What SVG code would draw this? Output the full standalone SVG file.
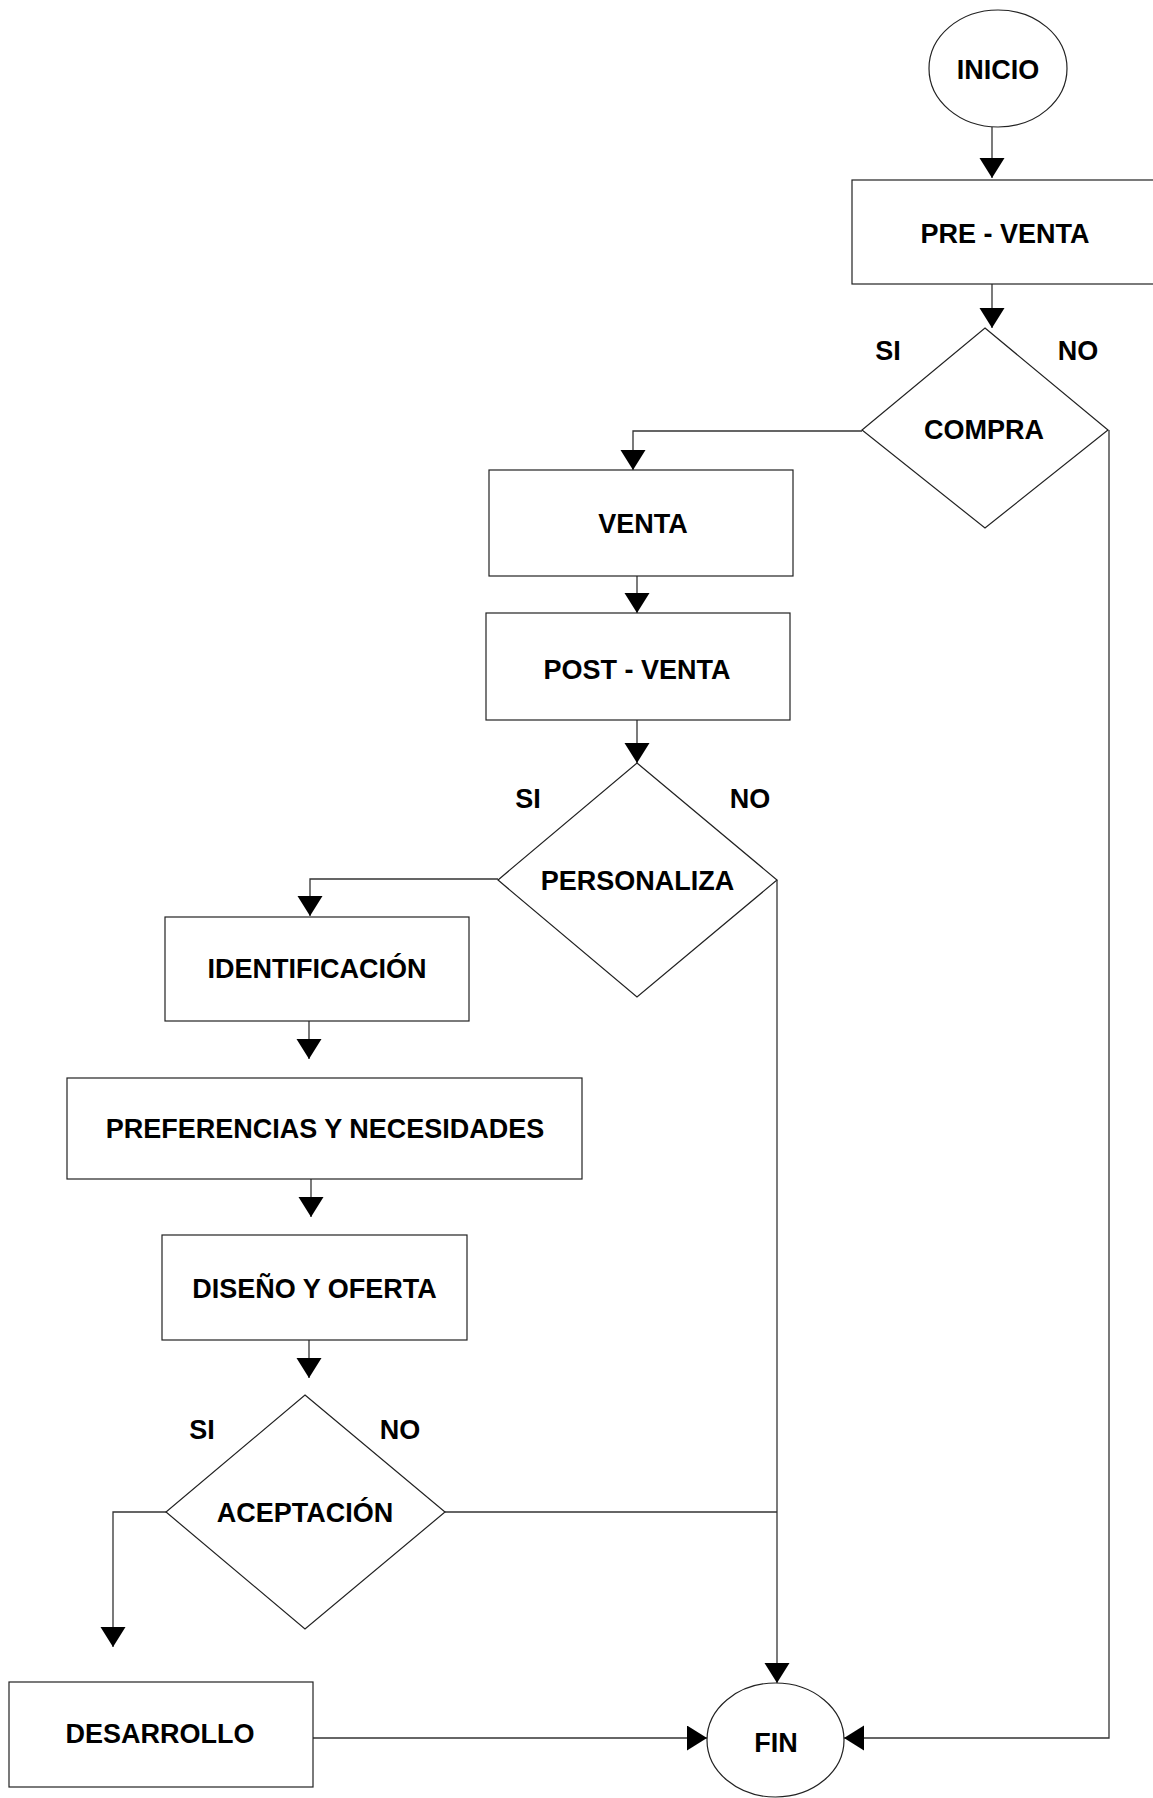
<svg xmlns="http://www.w3.org/2000/svg" width="1153" height="1798" viewBox="0 0 1153 1798">
<style>
.s{fill:#fff;stroke:#222;stroke-width:1.2}
.c{fill:none;stroke:#333;stroke-width:1.3}
text{font-family:"Liberation Sans",Arial,sans-serif;font-weight:bold;font-size:27px;fill:#000;text-anchor:middle}
</style>
<defs>
<marker id="ah" markerUnits="userSpaceOnUse" markerWidth="22" markerHeight="26" refX="20" refY="12.5" orient="auto" viewBox="0 0 22 26">
<path d="M0,0 L20,12.5 L0,25 z" fill="#000"/>
</marker>
</defs>
<rect width="1153" height="1798" fill="#fff"/>
<g id="connectors">
<path class="c" d="M992,127 L992,178" marker-end="url(#ah)"/>
<path class="c" d="M992,284 L992,328" marker-end="url(#ah)"/>
<path class="c" d="M862,431 L633,431 L633,470" marker-end="url(#ah)"/>
<path class="c" d="M1109,430 L1109,1738 L844,1738" marker-end="url(#ah)"/>
<path class="c" d="M637,576 L637,613" marker-end="url(#ah)"/>
<path class="c" d="M637,720 L637,763" marker-end="url(#ah)"/>
<path class="c" d="M498,879 L310,879 L310,916" marker-end="url(#ah)"/>
<path class="c" d="M777,880 L777,1683" marker-end="url(#ah)"/>
<path class="c" d="M309,1021 L309,1059" marker-end="url(#ah)"/>
<path class="c" d="M311,1179 L311,1217" marker-end="url(#ah)"/>
<path class="c" d="M309,1340 L309,1378" marker-end="url(#ah)"/>
<path class="c" d="M166,1512 L113,1512 L113,1647" marker-end="url(#ah)"/>
<path class="c" d="M445,1512 L777,1512"/>
<path class="c" d="M313,1738 L707,1738" marker-end="url(#ah)"/>
</g>
<g id="inicio"><ellipse class="s" cx="998" cy="68.5" rx="69" ry="58.5"/><text x="998" y="79">INICIO</text></g>
<g id="preventa"><rect class="s" x="852" y="180" width="310" height="104"/><text x="1005" y="243">PRE - VENTA</text></g>
<g id="compra"><polygon class="s" points="985,328 1108,430 985,528 862,430"/><text x="984" y="439">COMPRA</text><text x="888" y="360">SI</text><text x="1078" y="360">NO</text></g>
<g id="venta"><rect class="s" x="489" y="470" width="304" height="106"/><text x="643" y="533">VENTA</text></g>
<g id="postventa"><rect class="s" x="486" y="613" width="304" height="107"/><text x="637" y="679">POST - VENTA</text></g>
<g id="personaliza"><polygon class="s" points="637,763 777,880 637,997 498,880"/><text x="637.5" y="890">PERSONALIZA</text><text x="528" y="808">SI</text><text x="750" y="808">NO</text></g>
<g id="identificacion"><rect class="s" x="165" y="917" width="304" height="104"/><text x="317" y="978">IDENTIFICACIÓN</text></g>
<g id="preferencias"><rect class="s" x="67" y="1078" width="515" height="101"/><text x="325" y="1138">PREFERENCIAS Y NECESIDADES</text></g>
<g id="diseno"><rect class="s" x="162" y="1235" width="305" height="105"/><text x="314.5" y="1298">DISEÑO Y OFERTA</text></g>
<g id="aceptacion"><polygon class="s" points="305,1395 445,1512 305,1629 166,1512"/><text x="305" y="1522">ACEPTACIÓN</text><text x="202" y="1439">SI</text><text x="400" y="1439">NO</text></g>
<g id="desarrollo"><rect class="s" x="9" y="1682" width="304" height="105"/><text x="160" y="1743">DESARROLLO</text></g>
<g id="fin"><ellipse class="s" cx="775.5" cy="1740" rx="68.5" ry="57"/><text x="776" y="1752">FIN</text></g>
</svg>
